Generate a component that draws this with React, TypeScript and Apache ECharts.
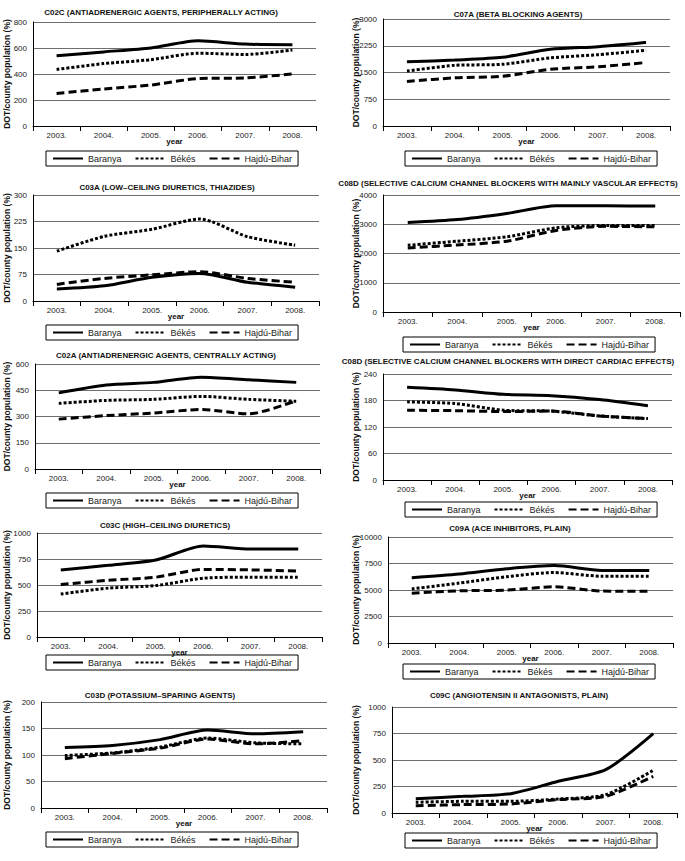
import React, { useEffect, useRef } from 'react';
import * as echarts from 'echarts';

const years = ['2003.', '2004.', '2005.', '2006.', '2007.', '2008.'];
const seriesNames = ['Baranya', 'Békés', 'Hajdú-Bihar'];
const titles = [
  'C02C (ANTIADRENERGIC AGENTS, PERIPHERALLY ACTING)',
  'C07A (BETA BLOCKING AGENTS)',
  'C03A (LOW–CEILING DIURETICS, THIAZIDES)',
  'C08D (SELECTIVE CALCIUM CHANNEL BLOCKERS WITH MAINLY VASCULAR EFFECTS)',
  'C02A (ANTIADRENERGIC AGENTS, CENTRALLY ACTING)',
  'C08D (SELECTIVE CALCIUM CHANNEL BLOCKERS WITH DIRECT CARDIAC EFFECTS)',
  'C03C (HIGH–CEILING DIURETICS)',
  'C09A (ACE INHIBITORS, PLAIN)',
  'C03D (POTASSIUM–SPARING AGENTS)',
  'C09C (ANGIOTENSIN II ANTAGONISTS, PLAIN)',
];
const yMax = [800, 3000, 300, 4000, 600, 240, 1000, 10000, 200, 1000];
const yStep = [200, 750, 75, 1000, 150, 60, 250, 2500, 50, 250];

const baranya = [
  [540, 570, 600, 655, 630, 625],
  [1800, 1850, 1925, 2150, 2225, 2345],
  [34, 43, 67, 78, 53, 39],
  [3060, 3160, 3370, 3630, 3630, 3620],
  [435, 480, 495, 525, 510, 495],
  [210, 204, 194, 191, 182, 168],
  [645, 690, 740, 875, 845, 845],
  [6150, 6500, 7000, 7300, 6850, 6850],
  [114, 118, 129, 147, 140, 144],
  [135, 157, 182, 299, 409, 748],
];
const bekes = [
  [435, 480, 510, 560, 550, 585],
  [1540, 1700, 1730, 1910, 2000, 2120],
  [141, 183, 203, 232, 182, 158],
  [2280, 2420, 2570, 2880, 2960, 2960],
  [375, 392, 398, 415, 398, 387],
  [177, 173, 158, 156, 145, 139],
  [413, 470, 494, 565, 575, 575],
  [5100, 5650, 6250, 6650, 6300, 6300],
  [99, 104, 115, 132, 123, 121],
  [101, 110, 110, 132, 173, 403],
];
const hajdu = [
  [250, 285, 315, 365, 370, 400],
  [1250, 1350, 1395, 1590, 1660, 1780],
  [47, 64, 74, 83, 64, 53],
  [2190, 2290, 2420, 2790, 2930, 2910],
  [285, 305, 320, 340, 315, 390],
  [158, 157, 155, 156, 145, 139],
  [505, 545, 575, 650, 645, 635],
  [4700, 4920, 4990, 5300, 4900, 4880],
  [93, 103, 113, 130, 121, 127],
  [69, 79, 85, 126, 157, 346],
];

// layout: plot rect [left, top, right, bottom]
const plots = [
  [33, 22, 316, 126],
  [383, 19, 670, 126],
  [33, 195, 319, 301],
  [383, 195, 680, 312],
  [35, 364, 320, 469],
  [383, 374, 672, 480],
  [37, 533, 322, 637],
  [388, 537, 673, 643],
  [41, 702, 327, 808],
  [392, 707, 677, 813],
];
const titlePos = [
  [161, 12], [518, 14], [167, 187], [508, 183], [166, 355],
  [508, 361], [165, 525], [510, 528], [160, 695], [519, 695],
];
const legendPos = [
  [46, 151], [405, 151], [46, 325], [403, 337], [46, 493],
  [405, 502], [46, 655], [403, 664], [46, 832], [405, 833],
];

const FONT = 'Liberation Sans, Arial, Helvetica, sans-serif';
const lineTypes: any[] = ['solid', [3, 2], [8, 4]];

export default function App() {
  const ref = useRef<HTMLDivElement>(null);
  useEffect(() => {
    if (!ref.current) return;
    const chart = echarts.init(ref.current, undefined, { renderer: 'svg' });
    const grid: any[] = [];
    const xAxis: any[] = [];
    const yAxis: any[] = [];
    const series: any[] = [];
    const legend: any[] = [];
    const graphic: any[] = [];
    const sets = [baranya, bekes, hajdu];
    plots.forEach(([l, t, r, b], i) => {
      grid.push({ left: l, top: t, width: r - l, height: b - t });
      xAxis.push({
        gridIndex: i,
        type: 'category',
        data: years,
        boundaryGap: true,
        axisLine: { lineStyle: { color: '#000', width: 1 } },
        axisTick: { show: true, length: 5, lineStyle: { color: '#000' } },
        axisLabel: { fontSize: 8, color: '#222', margin: 5, fontFamily: FONT },
        splitLine: { show: false },
      });
      yAxis.push({
        gridIndex: i,
        type: 'value',
        min: 0,
        max: yMax[i],
        interval: yStep[i],
        axisLine: { show: true, lineStyle: { color: '#000', width: 1 } },
        axisTick: { show: false },
        axisLabel: {
          fontSize: 8,
          color: '#222',
          margin: 6,
          fontFamily: FONT,
          formatter: (v: number) => String(v),
        },
        splitLine: { lineStyle: { color: '#6e6e6e', width: 1 } },
      });
      sets.forEach((set, k) => {
        series.push({
          type: 'line',
          name: seriesNames[k],
          xAxisIndex: i,
          yAxisIndex: i,
          data: set[i],
          symbol: 'none',
          smooth: 0.25,
          lineStyle: { color: '#000', width: 3, type: lineTypes[k] },
          itemStyle: { color: '#000' },
          z: 3 - k,
        });
      });
      legend.push({
        left: legendPos[i][0],
        top: legendPos[i][1],
        orient: 'horizontal',
        data: seriesNames,
        itemWidth: 30,
        itemHeight: 11,
        itemGap: 13,
        padding: [3, 6, 3, 6],
        borderColor: '#000',
        borderWidth: 1,
        selectedMode: false,
        itemStyle: { color: 'transparent', opacity: 0, borderWidth: 0 },
        textStyle: { fontSize: 9, color: '#222', fontFamily: FONT },
      });
      graphic.push({
        type: 'text',
        x: titlePos[i][0],
        y: titlePos[i][1],
        style: {
          text: titles[i],
          textAlign: 'center',
          textVerticalAlign: 'middle',
          font: `bold 8px ${FONT}`,
          fill: '#111',
        },
      });
      graphic.push({
        type: 'text',
        x: i % 2 === 0 ? 7 : 356,
        y: (t + b) / 2,
        rotation: Math.PI / 2,
        style: {
          text: 'DOT/county population (%)',
          textAlign: 'center',
          textVerticalAlign: 'middle',
          font: `bold 8.5px ${FONT}`,
          fill: '#111',
        },
      });
      graphic.push({
        type: 'text',
        x: (l + r) / 2,
        y: b + 15,
        style: {
          text: 'year',
          textAlign: 'center',
          textVerticalAlign: 'middle',
          font: `bold 8px ${FONT}`,
          fill: '#111',
        },
      });
    });
    chart.setOption({
      animation: false,
      backgroundColor: '#fff',
      textStyle: { fontFamily: FONT },
      grid,
      xAxis,
      yAxis,
      series,
      legend,
      graphic,
    });
    return () => chart.dispose();
  }, []);
  return (
    <div
      ref={ref}
      style={{ position: 'absolute', left: 0, top: 0, width: 685, height: 861, background: '#fff' }}
    />
  );
}
